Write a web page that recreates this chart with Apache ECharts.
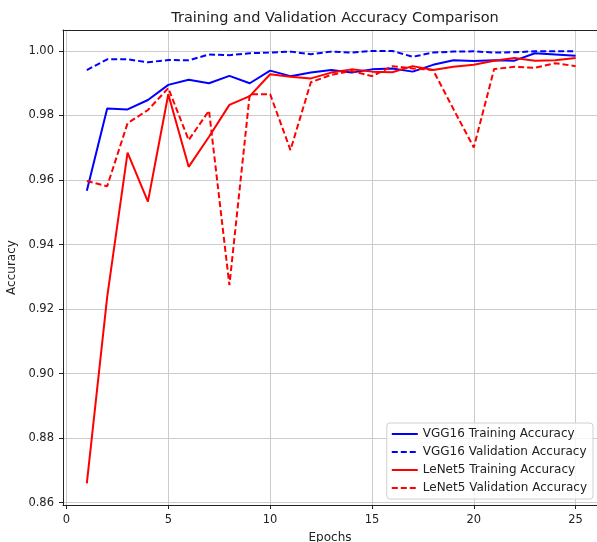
<!DOCTYPE html>
<html>
<head>
<meta charset="utf-8">
<script src="https://cdn.jsdelivr.net/npm/echarts@6/dist/echarts.min.js"></script>
<style>
  html, body { margin: 0; padding: 0; background: #fff; }
  #chart { width: 597px; height: 542px; }
</style>
</head>
<body>
<div id="chart"></div>
<script>
// epochs 1..25
const epochs = [1, 2, 3, 4, 5, 6, 7, 8, 9, 10, 11, 12, 13, 14, 15, 16, 17, 18, 19, 20, 21, 22, 23, 24, 25];

const vggTrain = [0.9567, 0.9822, 0.9819, 0.9848, 0.9895, 0.9911, 0.9900, 0.9923, 0.9900, 0.9939,
                  0.9922, 0.9933, 0.9941, 0.9933, 0.9943, 0.9946, 0.9936, 0.9957, 0.9971, 0.9969,
                  0.9971, 0.9970, 0.9993, 0.9989, 0.9985];
const vggVal = [0.9941, 0.9974, 0.9974, 0.9965, 0.9972, 0.9971, 0.9989, 0.9987, 0.9993, 0.9995,
                0.9998, 0.9990, 0.9998, 0.9995, 1.0000, 1.0000, 0.9982, 0.9995, 0.9998, 0.9999,
                0.9995, 0.9996, 0.9999, 0.9999, 0.9999];
const lenetTrain = [0.8660, 0.9238, 0.9685, 0.9533, 0.9866, 0.9641, 0.9734, 0.9833, 0.9860, 0.9928,
                    0.9920, 0.9915, 0.9933, 0.9943, 0.9936, 0.9934, 0.9953, 0.9941, 0.9951, 0.9957,
                    0.9970, 0.9978, 0.9970, 0.9971, 0.9978];
const lenetVal = [0.9597, 0.9581, 0.9776, 0.9817, 0.9885, 0.9724, 0.9815, 0.9274, 0.9866, 0.9866,
                  0.9693, 0.9903, 0.9926, 0.9938, 0.9922, 0.9953, 0.9946, 0.9941, 0.9820, 0.9701,
                  0.9944, 0.9951, 0.9948, 0.9962, 0.9953];

const xTicks = [0, 5, 10, 15, 20, 25];
const yTicks = [0.86, 0.88, 0.90, 0.92, 0.94, 0.96, 0.98, 1.00];

const font = 'DejaVu Sans';
const ink = '#222';

function pairs(vals) {
    return epochs.map((e, i) => [e, vals[i]]);
}

function lineSeries(name, vals, color, dashed) {
    return {
        name: name,
        type: 'line',
        data: pairs(vals),
        symbol: 'none',
        lineStyle: { color: color, width: 2, type: dashed ? [6, 3] : 'solid' },
        itemStyle: { color: color }
    };
}

const chart = echarts.init(document.getElementById('chart'));
chart.setOption({
    animation: false,
    backgroundColor: '#fff',
    title: {
        text: 'Training and Validation Accuracy Comparison',
        left: 330,
        textAlign: 'center',
        top: 6,
        textStyle: { fontFamily: font, fontSize: 14.5, fontWeight: 'normal', color: ink }
    },
    // right spine sits just outside the picture, so only left/bottom/top are drawn
    grid: { left: 63, top: 30, right: 0, bottom: 37, outerBoundsMode: 'none', containLabel: false },
    legend: {
        orient: 'vertical',
        right: 4,
        top: 423,
        itemWidth: 26,
        itemHeight: 12,
        itemGap: 6,
        padding: [5, 6, 5, 4],
        backgroundColor: 'rgba(255,255,255,0.8)',
        borderColor: '#d0d0d0',
        borderWidth: 1,
        borderRadius: 3,
        itemStyle: { opacity: 0 },
        textStyle: { fontFamily: font, fontSize: 12, color: ink }
    },
    xAxis: [{
        type: 'value',
        min: -0.17,
        max: 26.05,
        name: 'Epochs',
        nameLocation: 'middle',
        nameGap: 27,
        nameTextStyle: { fontFamily: font, fontSize: 12, color: ink },
        axisLine: { show: true, onZero: false, lineStyle: { color: ink, width: 1 } },
        axisTick: { show: true, length: 4, customValues: xTicks, lineStyle: { color: ink } },
        axisLabel: { customValues: xTicks, fontFamily: font, fontSize: 11.5, color: ink, margin: 9 },
        splitLine: { show: true, lineStyle: { color: '#cccccc', width: 1 } }
    }, {
        type: 'value',
        position: 'top',
        min: -0.17,
        max: 26.05,
        axisLine: { show: true, onZero: false, lineStyle: { color: ink, width: 1 } },
        axisTick: { show: false },
        axisLabel: { show: false },
        splitLine: { show: false }
    }],
    yAxis: {
        type: 'value',
        min: 0.8593,
        max: 1.0065,
        name: 'Accuracy',
        nameLocation: 'middle',
        nameRotate: 90,
        nameGap: 41,
        nameTextStyle: { fontFamily: font, fontSize: 12, color: ink },
        axisLine: { show: true, onZero: false, lineStyle: { color: ink, width: 1 } },
        axisTick: { show: true, length: 4, customValues: yTicks, lineStyle: { color: ink } },
        axisLabel: {
            customValues: yTicks,
            fontFamily: font, fontSize: 11.5, color: ink, margin: 9,
            formatter: v => v.toFixed(2)
        },
        splitLine: { show: true, lineStyle: { color: '#cccccc', width: 1 } }
    },
    series: [
        lineSeries('VGG16 Training Accuracy', vggTrain, '#0000ff', false),
        lineSeries('VGG16 Validation Accuracy', vggVal, '#0000ff', true),
        lineSeries('LeNet5 Training Accuracy', lenetTrain, '#ff0000', false),
        lineSeries('LeNet5 Validation Accuracy', lenetVal, '#ff0000', true)
    ]
});
</script>
</body>
</html>
